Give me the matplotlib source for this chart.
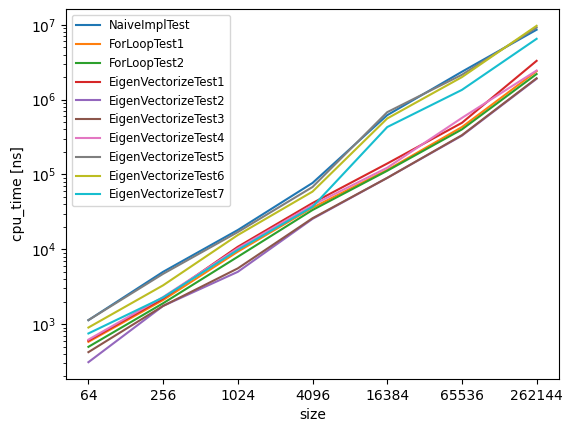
import matplotlib
matplotlib.use("Agg")
import matplotlib.pyplot as plt

sizes = ["64", "256", "1024", "4096", "16384", "65536", "262144"]

naive_impl = [1130, 5000, 18100, 77000, 620000, 2360000, 8600000]
for_loop1 = [580, 2100, 9300, 36000, 115000, 430000, 2400000]
for_loop2 = [497, 1900, 7950, 33500, 112000, 400000, 2200000]
eigen_vec1 = [600, 2200, 10800, 41500, 140000, 490000, 3300000]
eigen_vec2 = [310, 1750, 5000, 25500, 90000, 330000, 1900000]
eigen_vec3 = [422, 1750, 5560, 26000, 90000, 335000, 1930000]
eigen_vec4 = [620, 2300, 10300, 39000, 123000, 570000, 2450000]
eigen_vec5 = [1130, 4700, 17000, 68000, 680000, 2150000, 9200000]
eigen_vec6 = [900, 3300, 15500, 59000, 560000, 2000000, 9700000]
eigen_vec7 = [750, 2270, 9800, 37000, 430000, 1350000, 6500000]

series = [
    ("NaiveImplTest", naive_impl),
    ("ForLoopTest1", for_loop1),
    ("ForLoopTest2", for_loop2),
    ("EigenVectorizeTest1", eigen_vec1),
    ("EigenVectorizeTest2", eigen_vec2),
    ("EigenVectorizeTest3", eigen_vec3),
    ("EigenVectorizeTest4", eigen_vec4),
    ("EigenVectorizeTest5", eigen_vec5),
    ("EigenVectorizeTest6", eigen_vec6),
    ("EigenVectorizeTest7", eigen_vec7),
]

fig = plt.figure(figsize=(5.73, 4.32), dpi=100)
ax = fig.add_axes([0.1152, 0.1227, 0.8604, 0.8565])

for name, values in series:
    ax.plot(sizes, values, label=name)

ax.set_yscale("log")
ax.set_xlabel("size")
ax.set_ylabel("cpu_time [ns]")
ax.legend(loc="upper left", fontsize="small")

fig.savefig("out.png", dpi=100)
